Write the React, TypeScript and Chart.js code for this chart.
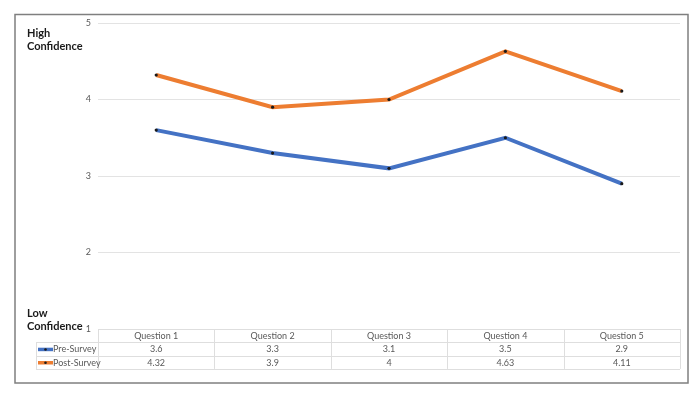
import React, { useEffect, useRef } from "react";
import { Chart, registerables } from "chart.js";

Chart.register(...registerables);

const categories = ["Question 1", "Question 2", "Question 3", "Question 4", "Question 5"];
const preSurvey = [3.6, 3.3, 3.1, 3.5, 2.9];
const postSurvey = [4.32, 3.9, 4, 4.63, 4.11];
const seriesNames = ["Pre-Survey", "Post-Survey"];
const seriesColors = ["#4472C4", "#ED7D31"];
const yTicks = [1, 2, 3, 4, 5];
const topLabel = ["High", "Confidence"];
const bottomLabel = ["Low", "Confidence"];

const FONT = "Lato, 'Open Sans', sans-serif";

const tablePlugin = {
  id: "dataTable",
  afterDraw(chart: any) {
    const ctx = chart.ctx;
    const x = chart.scales.x;
    const area = chart.chartArea;
    const rowH = 13.3;
    const top = area.bottom;
    const left = area.left;
    const right = area.right;
    const keyLeft = 36;
    ctx.save();
    ctx.strokeStyle = "#7f7f7f";
    ctx.lineWidth = 1.5;
    ctx.strokeRect(15, 14.5, 673, 368.5);

    ctx.strokeStyle = "#dedede";
    ctx.lineWidth = 1;
    ctx.beginPath();
    ctx.moveTo(left, top + 0.5);
    ctx.lineTo(right, top + 0.5);
    for (let r = 1; r <= 3; r++) {
      const yy = Math.round(top + rowH * r) + 0.5;
      ctx.moveTo(keyLeft, yy);
      ctx.lineTo(right, yy);
    }
    const n = categories.length;
    const colW = (right - left) / n;
    for (let i = 0; i <= n; i++) {
      const xx = Math.round(left + colW * i) + 0.5;
      ctx.moveTo(xx, top);
      ctx.lineTo(xx, top + rowH * 3);
    }
    ctx.moveTo(keyLeft + 0.5, top + rowH);
    ctx.lineTo(keyLeft + 0.5, top + rowH * 3);
    ctx.stroke();

    ctx.fillStyle = "#595959";
    ctx.font = `9px ${FONT}`;
    ctx.textAlign = "center";
    ctx.textBaseline = "middle";
    categories.forEach((c, i) => {
      ctx.fillText(c, x.getPixelForValue(i), top + rowH * 0.5 + 0.5);
    });
    const rows = [preSurvey, postSurvey];
    rows.forEach((vals, r) => {
      const cy = top + rowH * (r + 1.5) + 0.5;
      vals.forEach((v, i) => {
        ctx.fillText(String(v), x.getPixelForValue(i), cy);
      });
      ctx.strokeStyle = seriesColors[r];
      ctx.lineWidth = 3.5;
      ctx.beginPath();
      ctx.moveTo(keyLeft + 2, cy);
      ctx.lineTo(keyLeft + 17, cy);
      ctx.stroke();
      ctx.fillStyle = "#1a1a1a";
      ctx.beginPath();
      ctx.arc(keyLeft + 9.5, cy, 1.3, 0, Math.PI * 2);
      ctx.fill();
      ctx.fillStyle = "#595959";
      ctx.textAlign = "left";
      ctx.fillText(seriesNames[r], keyLeft + 17, cy);
      ctx.textAlign = "center";
    });

    ctx.fillStyle = "#1a1a1a";
    ctx.font = `bold 11px ${FONT}`;
    ctx.textAlign = "left";
    ctx.fillText(topLabel[0], 27, 33);
    ctx.fillText(topLabel[1], 27, 46);
    ctx.fillText(bottomLabel[0], 27, 313);
    ctx.fillText(bottomLabel[1], 27, 326);
    ctx.restore();
  },
};

export default function App() {
  const ref = useRef<HTMLCanvasElement>(null);
  useEffect(() => {
    if (!ref.current) return;
    const chart = new Chart(ref.current, {
      type: "line",
      data: {
        labels: categories,
        datasets: [preSurvey, postSurvey].map((d, i) => ({
          label: seriesNames[i],
          data: d,
          borderColor: seriesColors[i],
          backgroundColor: seriesColors[i],
          borderWidth: 4,
          pointRadius: 1.6,
          pointBackgroundColor: "#1a1a1a",
          pointBorderColor: "#1a1a1a",
          pointBorderWidth: 0,
          tension: 0,
        })),
      },
      options: {
        animation: false,
        responsive: false,
        layout: { padding: { left: 0, top: 23, right: 20, bottom: 65 } },
        plugins: { legend: { display: false }, tooltip: { enabled: false } },
        scales: {
          x: { type: "category", offset: true, display: false },
          y: {
            min: yTicks[0],
            max: yTicks[yTicks.length - 1],
            afterFit(scale: any) {
              scale.width = 98;
            },
            afterBuildTicks(scale: any) {
              scale.ticks = yTicks.map((v) => ({ value: v }));
            },
            border: { display: false },
            grid: { color: "#e3e3e3", drawTicks: false, lineWidth: 1 },
            ticks: {
              padding: 7,
              color: "#595959",
              font: { family: FONT, size: 9 },
            },
          },
        },
      },
      plugins: [tablePlugin],
    } as any);
    return () => chart.destroy();
  }, []);
  return (
    <div style={{ position: "fixed", left: 0, top: 0, width: 700, height: 394, background: "#fff" }}>
      <canvas ref={ref} width={700} height={394} style={{ display: "block" }} />
    </div>
  );
}
